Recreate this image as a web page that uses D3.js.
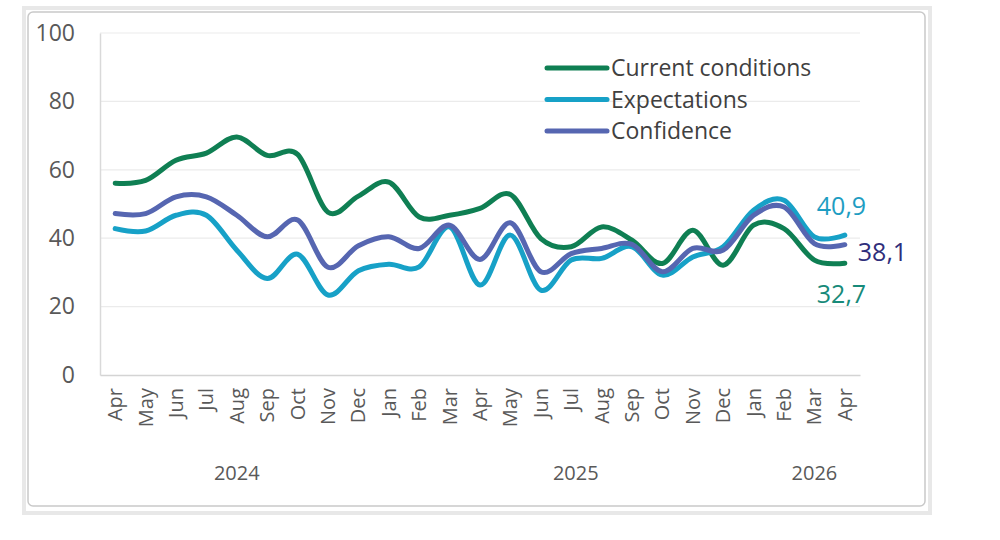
<!DOCTYPE html>
<html>
<head>
<meta charset="utf-8">
<script src="https://cdn.jsdelivr.net/npm/d3@7"></script>
<style>
  body { margin: 0; background: #fff; }
  svg { display: block; font-family: "Open Sans", sans-serif; }
</style>
</head>
<body>
<div id="chart"></div>
<script>
// months Apr 2024 .. Apr 2026
const months = ["Apr","May","Jun","Jul","Aug","Sep","Oct","Nov","Dec","Jan","Feb","Mar",
                "Apr","May","Jun","Jul","Aug","Sep","Oct","Nov","Dec","Jan","Feb","Mar","Apr"];
const years = ["2024", "2025", "2026"];
const yearAt = [4, 15.15, 23];   // category index under which each year label sits
const yTicks = [0, 20, 40, 60, 80, 100];

const currentConditions = [56.1, 56.9, 62.8, 64.9, 69.6, 64.2, 64.5, 47.6, 52.3, 56.4, 46.2, 46.7,
                           48.7, 52.8, 39.9, 37.5, 43.3, 39.4, 32.6, 42.3, 32.1, 43.8, 42.8, 33.6, 32.7];
const expectations = [42.8, 42.1, 46.7, 46.7, 36.5, 28.2, 35.3, 23.4, 30.5, 32.4, 31.6, 43.3,
                      26.3, 40.9, 24.8, 33.6, 34.1, 37.5, 29.2, 34.5, 37.5, 48.2, 51.1, 40.4, 40.9];
const confidence = [47.2, 47.2, 52.1, 52.1, 46.7, 40.4, 45.3, 31.5, 37.8, 40.4, 37.0, 43.8,
                    33.8, 44.5, 30.2, 35.5, 37.0, 38.2, 30.2, 37.0, 36.5, 46.7, 49.1, 38.4, 38.1];

const seriesNames = ["Current conditions", "Expectations", "Confidence"];
const seriesColors = ["#0f7f53", "#17a1c7", "#5666b1"];
const labelColors = ["#178a79", "#1e9dc2", "#2f2e7b"];

const width = 1000, height = 540;
const margin = { top: 33, right: 140, bottom: 165, left: 100 };
const innerW = width - margin.left - margin.right;
const innerH = height - margin.top - margin.bottom;

const svg = d3.select("#chart").append("svg")
  .attr("width", width).attr("height", height);

// chart frame
svg.append("rect").attr("x", 24).attr("y", 8).attr("width", 906).attr("height", 505)
  .attr("fill", "none").attr("stroke", "#e8e8e8").attr("stroke-width", 4);
svg.append("rect").attr("x", 28).attr("y", 12).attr("width", 897).attr("height", 494)
  .attr("rx", 5).attr("fill", "#fff").attr("stroke", "#c9c9c9").attr("stroke-width", 1.5);

const g = svg.append("g").attr("transform", `translate(${margin.left},${margin.top})`);

const x = d3.scaleBand().domain(d3.range(months.length)).range([0, innerW]);
const xc = i => x(i) + x.bandwidth() / 2;
const y = d3.scaleLinear().domain([0, 100]).range([innerH, 0]);

// gridlines
g.append("g").selectAll("line").data(yTicks.filter(d => d > 0)).enter().append("line")
  .attr("x1", 0).attr("x2", innerW)
  .attr("y1", d => y(d)).attr("y2", d => y(d))
  .attr("stroke", "#ebebeb").attr("stroke-width", 1.2);

// y axis
const yAxis = g.append("g").call(d3.axisLeft(y).tickValues(yTicks).tickSize(0).tickPadding(25));
yAxis.select(".domain").attr("stroke", "#d9d9d9").attr("stroke-width", 1.5);
yAxis.selectAll("text").attr("font-size", 23).attr("fill", "#595959")
  .attr("font-family", "Open Sans");

// x axis
const xAxis = g.append("g").attr("transform", `translate(0,${innerH})`)
  .call(d3.axisBottom(x).tickFormat(i => months[i]).tickSize(0));
xAxis.select(".domain").attr("stroke", "#d4d4d4").attr("stroke-width", 1.5);
xAxis.selectAll("text")
  .attr("font-size", 20).attr("fill", "#595959").attr("font-family", "Open Sans")
  .attr("transform", "rotate(-90)")
  .attr("text-anchor", "end")
  .attr("x", -13).attr("y", 0).attr("dy", "0.35em");

// year labels
g.append("g").selectAll("text").data(years).enter().append("text")
  .attr("x", (d, i) => xc(0) + yearAt[i] * x.step())
  .attr("y", innerH + 105)
  .attr("text-anchor", "middle")
  .attr("font-size", 20).attr("fill", "#595959")
  .text(d => d);

// lines
const line = d3.line()
  .x((d, i) => xc(i))
  .y(d => y(d))
  .curve(d3.curveCatmullRom.alpha(0));

const allSeries = [currentConditions, expectations, confidence];
g.append("g").selectAll("path").data(allSeries).enter().append("path")
  .attr("d", d => line(d))
  .attr("fill", "none")
  .attr("stroke", (d, i) => seriesColors[i])
  .attr("stroke-width", 5)
  .attr("stroke-linecap", "round")
  .attr("stroke-linejoin", "round");

// end labels
const fmt = v => d3.format(".1f")(v).replace(".", ",");
const last = months.length - 1;
const endOffsets = [[-28, 40], [-28, -20], [13, 16]];
g.append("g").selectAll("text").data(allSeries).enter().append("text")
  .attr("x", (d, i) => xc(last) + endOffsets[i][0])
  .attr("y", (d, i) => y(d[last]) + endOffsets[i][1])
  .attr("font-size", 25)
  .attr("fill", (d, i) => labelColors[i])
  .text(d => fmt(d[last]));

// legend
const legend = svg.append("g").attr("transform", "translate(547,68)");
const li = legend.selectAll("g").data(seriesNames).enter().append("g")
  .attr("transform", (d, i) => `translate(0,${i * 31.5})`);
li.append("line").attr("x1", 0).attr("x2", 60).attr("y1", 0).attr("y2", 0)
  .attr("stroke", (d, i) => seriesColors[i]).attr("stroke-width", 5)
  .attr("stroke-linecap", "round");
li.append("text").attr("x", 64).attr("y", 0).attr("dy", "0.35em")
  .attr("font-size", 23).attr("fill", "#404040")
  .text(d => d);
</script>
</body>
</html>
